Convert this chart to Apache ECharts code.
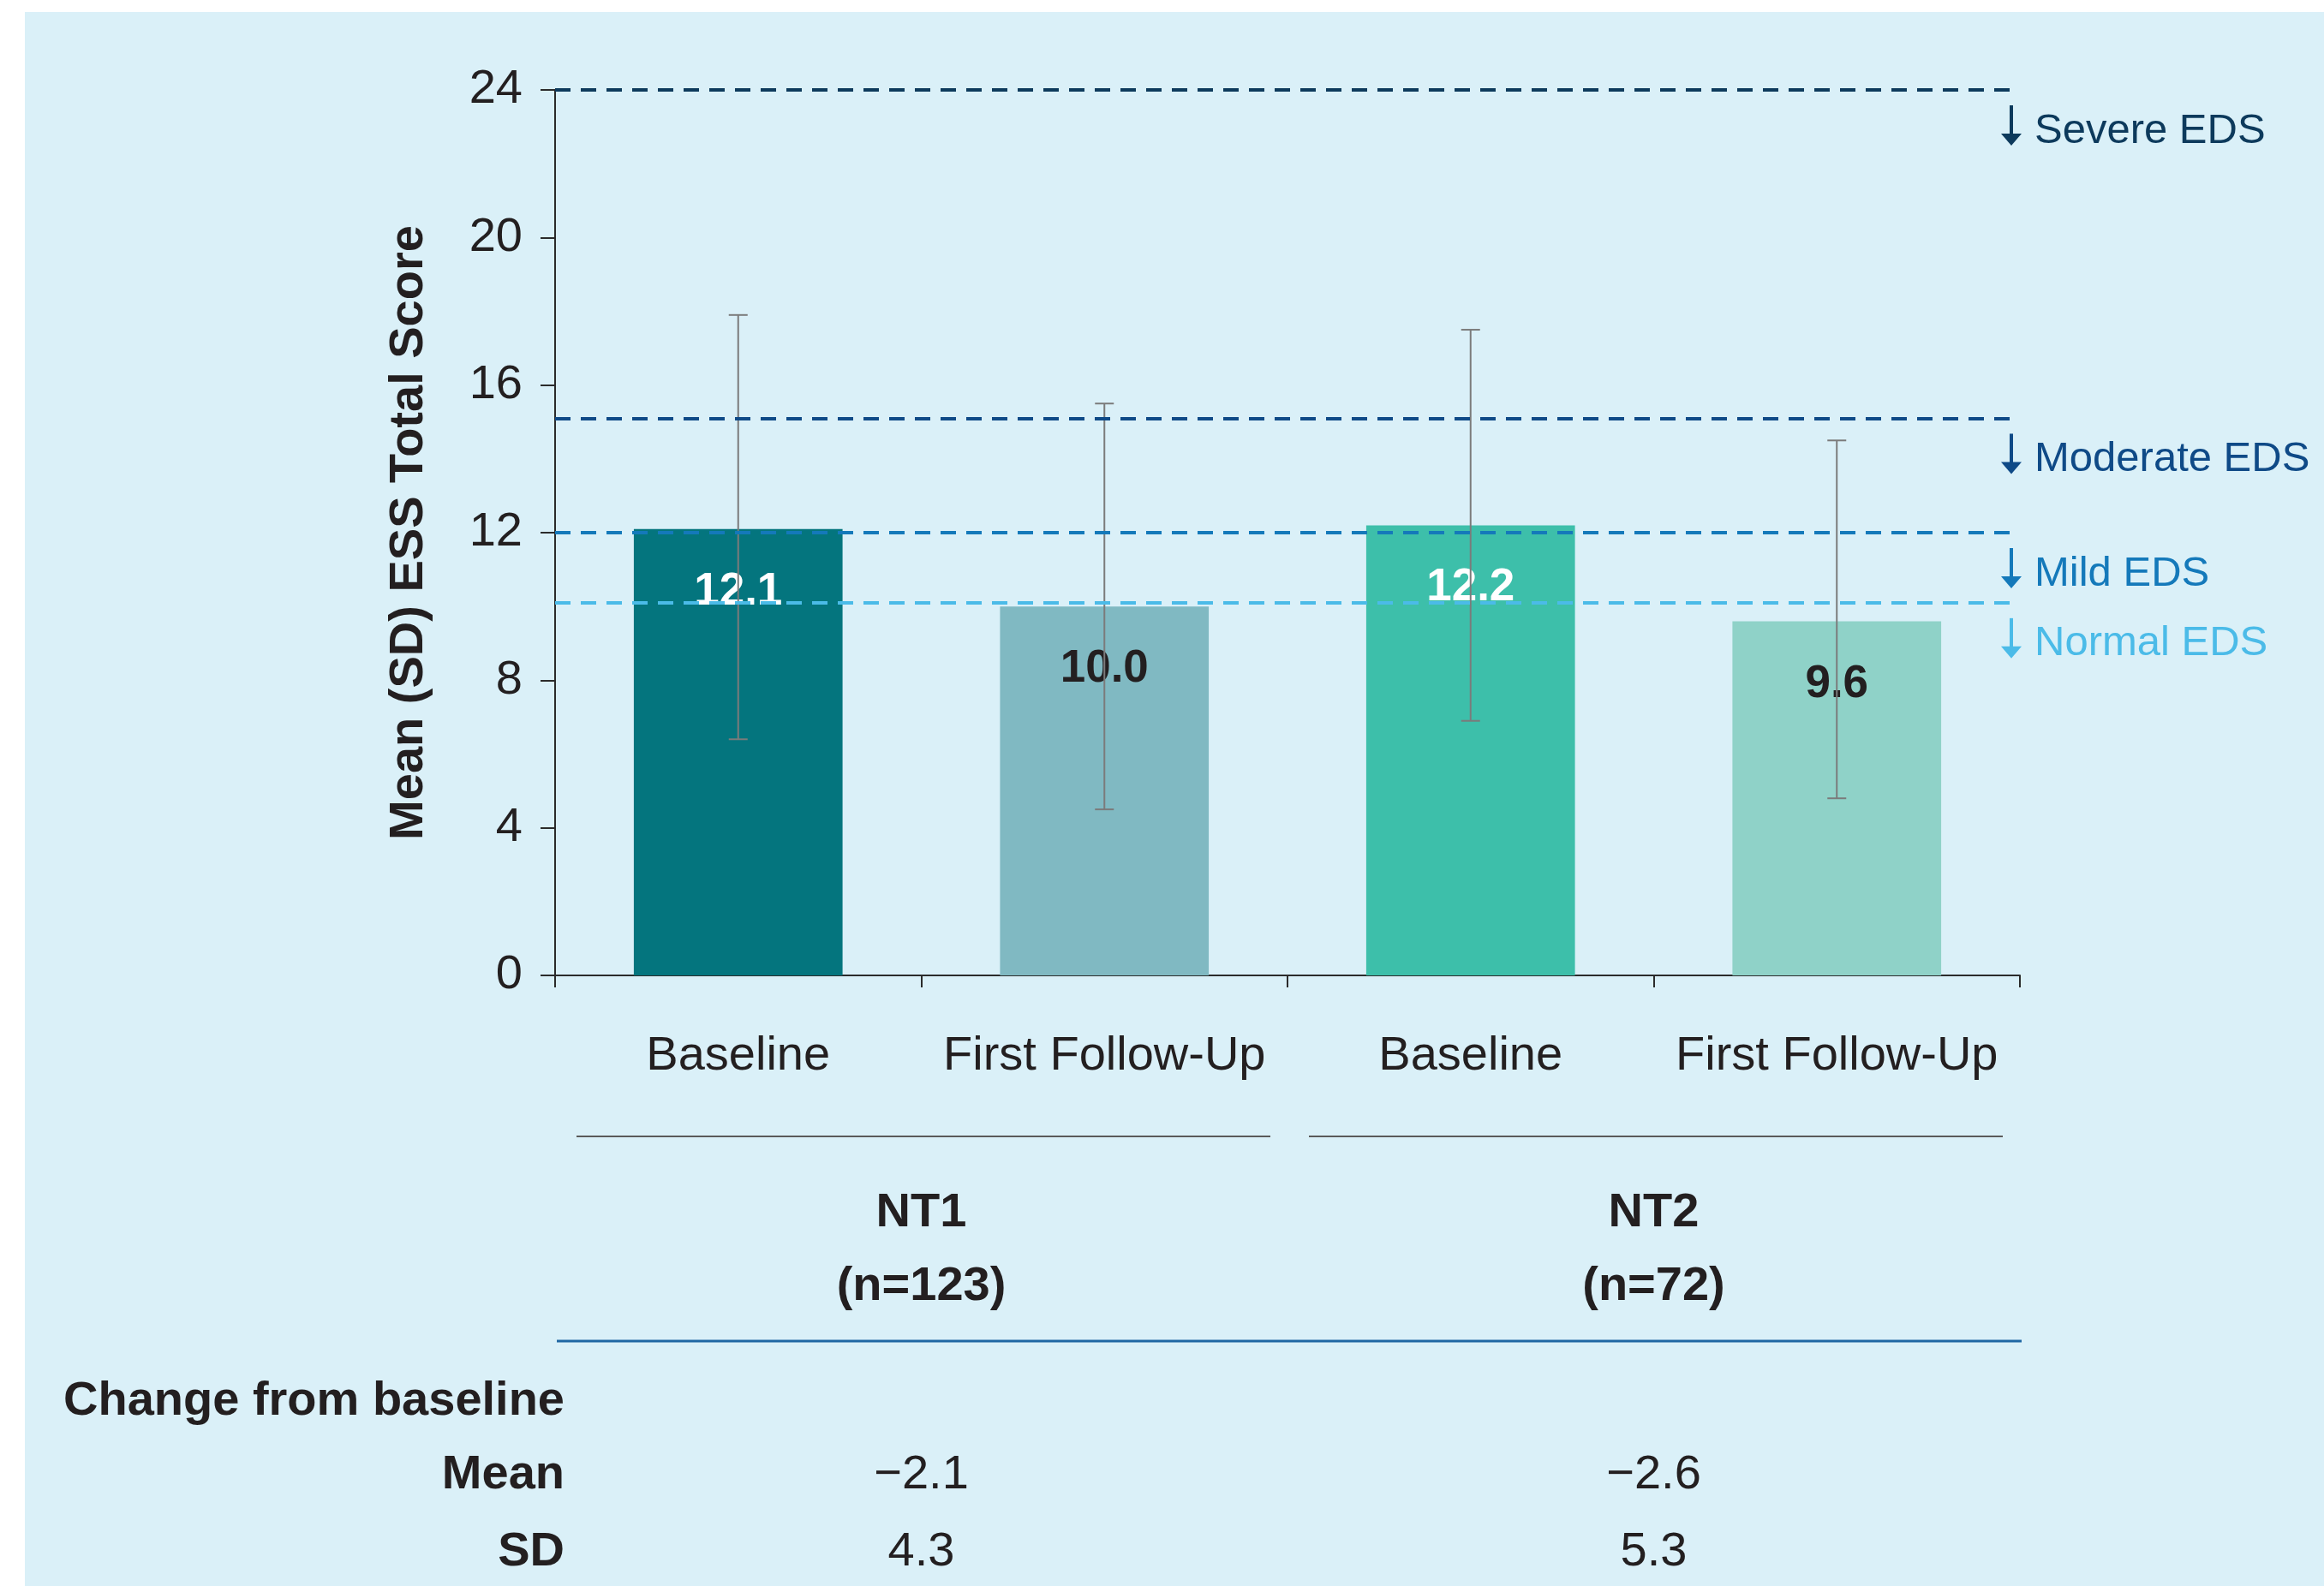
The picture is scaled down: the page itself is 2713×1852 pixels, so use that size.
<!DOCTYPE html>
<html>
<head>
<meta charset="utf-8">
<script src="https://cdn.jsdelivr.net/npm/echarts@6/dist/echarts.min.js"></script>
<style>
html, body { margin: 0; padding: 0; background: #ffffff; }
#panel { position: absolute; left: 29px; top: 14px; width: 2684px; height: 1838px; background: #daf0f8; }
#main { position: absolute; left: 0; top: 0; width: 2713px; height: 1852px; }
</style>
</head>
<body>
<div id="panel"></div>
<div id="main"></div>
<script>
// chart data
var categories = ['Baseline', 'First Follow-Up', 'Baseline', 'First Follow-Up'];
var meanScores = [12.1, 10.0, 12.2, 9.6];
var sdLow = [6.4, 4.5, 6.9, 4.8];
var sdHigh = [17.9, 15.5, 17.5, 14.5];
var thresholds = [24, 15.1, 12, 10.1];
var thresholdNames = ['Severe EDS', 'Moderate EDS', 'Mild EDS', 'Normal EDS'];
var groups = ['NT1', 'NT2'];
var groupN = [123, 72];
var changeMean = [-2.1, -2.6];
var changeSD = [4.3, 5.3];
var yMin = 0, yMax = 24, yStep = 4;

var barColors = ['#04757e', '#80b9c2', '#3dbfaa', '#8fd2c8'];
var labelColors = ['#ffffff', '#231f20', '#ffffff', '#231f20'];
var lineColors = ['#0d3a5c', '#0f4a87', '#1479ba', '#4bbbe8'];
var font = '"Liberation Sans", Arial, Helvetica, sans-serif';
var ink = '#231f20';
var dash = [18, 12];

var myChart = echarts.init(document.getElementById('main'));

option = {
    backgroundColor: 'transparent',
    animation: false,
    textStyle: { fontFamily: font },
    grid: { left: 648, right: 355, top: 105, bottom: 713 },
    xAxis: {
        type: 'category',
        data: categories,
        axisLine: { lineStyle: { color: '#2b2b2b', width: 2 } },
        axisTick: { show: true, length: 14, lineStyle: { color: '#2b2b2b', width: 2 } },
        axisLabel: { interval: 0, fontSize: 56, color: ink, margin: 67, fontFamily: font }
    },
    yAxis: {
        type: 'value',
        min: yMin,
        max: yMax,
        interval: yStep,
        splitLine: { show: false },
        axisLine: { show: true, lineStyle: { color: '#2b2b2b', width: 2 } },
        axisTick: { show: true, length: 17, lineStyle: { color: '#2b2b2b', width: 2 } },
        axisLabel: { fontSize: 56, color: ink, margin: 38, fontFamily: font },
        name: 'Mean (SD) ESS Total Score',
        nameLocation: 'middle',
        nameGap: 142,
        nameTextStyle: { fontSize: 56, fontWeight: 'bold', color: ink, fontFamily: font }
    },
    series: [
        {
            name: 'thresholds',
            type: 'line',
            data: [],
            z: 1,
            markLine: {
                silent: true,
                symbol: 'none',
                label: { show: false },
                lineStyle: { type: dash, width: 4 },
                data: thresholds.map(function (v, i) {
                    return { yAxis: v, lineStyle: { color: lineColors[i], type: dash, width: 4 } };
                })
            }
        },
        {
            name: 'mean',
            type: 'bar',
            z: 3,
            barWidth: '57%',
            data: meanScores.map(function (v, i) {
                return {
                    value: v,
                    itemStyle: { color: barColors[i] },
                    label: { color: labelColors[i] }
                };
            }),
            label: {
                show: true,
                position: 'insideTop',
                distance: 47,
                fontSize: 53,
                fontWeight: 'bold',
                fontFamily: font,
                formatter: function (p) { return p.value.toFixed(1); }
            }
        },
        {
            name: 'sd',
            type: 'custom',
            z: 4,
            data: categories.map(function (c, i) { return [i, sdLow[i], sdHigh[i]]; }),
            encode: { x: 0, y: [1, 2] },
            renderItem: function (params, api) {
                var x = api.value(0);
                var lo = api.coord([x, api.value(1)]);
                var hi = api.coord([x, api.value(2)]);
                var w = 11;
                var st = { stroke: '#7b7b7b', lineWidth: 2 };
                return {
                    type: 'group',
                    children: [
                        { type: 'line', shape: { x1: hi[0], y1: hi[1], x2: lo[0], y2: lo[1] }, style: st },
                        { type: 'line', shape: { x1: hi[0] - w, y1: hi[1], x2: hi[0] + w, y2: hi[1] }, style: st },
                        { type: 'line', shape: { x1: lo[0] - w, y1: lo[1], x2: lo[0] + w, y2: lo[1] }, style: st }
                    ]
                };
            }
        }
    ]
};
myChart.setOption(option);

// side labels and table below, placed through the chart's scales
function px(ci, v) { return myChart.convertToPixel({ gridIndex: 0 }, [ci, v]); }
function txt(x, y, s, opt) {
    return {
        type: 'text', x: x, y: y + 5, z: 10,
        style: {
            text: s,
            fontFamily: font,
            fontSize: opt.size || 56,
            fontWeight: opt.bold ? 'bold' : 'normal',
            fill: opt.color || ink,
            align: opt.align || 'center',
            verticalAlign: 'middle'
        }
    };
}
function arrow(x, top, bottom, color) {
    return {
        type: 'group', z: 10,
        children: [
            { type: 'line', shape: { x1: x, y1: top, x2: x, y2: bottom - 10 }, style: { stroke: color, lineWidth: 4 } },
            { type: 'polygon', shape: { points: [[x - 12, bottom - 14], [x + 12, bottom - 14], [x, bottom]] }, style: { fill: color } }
        ]
    };
}
function fmt(v) { return (v < 0 ? '\u2212' : '') + Math.abs(v).toFixed(1); }

var left = px(0, 0)[0] - (px(1, 0)[0] - px(0, 0)[0]) / 2;
var right = px(3, 0)[0] + (px(3, 0)[0] - px(2, 0)[0]) / 2;
var graphics = [];

thresholds.forEach(function (v, i) {
    var y = px(0, v)[1] + 47;
    graphics.push(arrow(right - 10, y - 29, y + 18, lineColors[i]));
    graphics.push(txt(right + 17, y - 4, thresholdNames[i], { size: 49, color: lineColors[i], align: 'left' }));
});

var half = (px(1, 0)[0] - px(0, 0)[0]) / 2;
groups.forEach(function (g, gi) {
    var cx = (px(gi * 2, 0)[0] + px(gi * 2 + 1, 0)[0]) / 2;
    graphics.push({
        type: 'line', z: 10,
        shape: { x1: cx - 2 * half + 25, y1: 1327, x2: cx + 2 * half - 20, y2: 1327 },
        style: { stroke: '#5a5a5a', lineWidth: 2 }
    });
    graphics.push(txt(cx, 1412, g, { bold: true }));
    graphics.push(txt(cx, 1498, '(n=' + groupN[gi] + ')', { bold: true }));
    graphics.push(txt(cx, 1718, fmt(changeMean[gi]), {}));
    graphics.push(txt(cx, 1808, changeSD[gi].toFixed(1), {}));
});

graphics.push({
    type: 'line', z: 10,
    shape: { x1: left + 2, y1: 1566, x2: right + 2, y2: 1566 },
    style: { stroke: '#1f67a3', lineWidth: 3 }
});
graphics.push(txt(left + 11, 1632, 'Change from baseline', { bold: true, align: 'right' }));
graphics.push(txt(left + 11, 1718, 'Mean', { bold: true, align: 'right' }));
graphics.push(txt(left + 11, 1808, 'SD', { bold: true, align: 'right' }));

myChart.setOption({ graphic: graphics });
</script>
</body>
</html>
